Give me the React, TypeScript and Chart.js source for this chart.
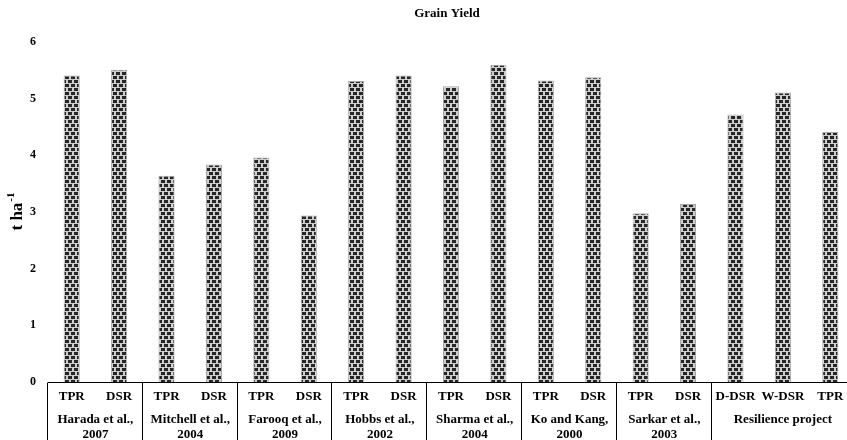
import React, { useEffect, useRef } from "react";
import { Chart, registerables } from "chart.js";
Chart.register(...registerables);

const barLabels = ["TPR", "DSR", "TPR", "DSR", "TPR", "DSR", "TPR", "DSR", "TPR", "DSR", "TPR", "DSR", "TPR", "DSR", "D-DSR", "W-DSR", "TPR"];
const yieldValues = [5.41, 5.51, 3.64, 3.84, 3.96, 2.94, 5.31, 5.41, 5.22, 5.6, 5.32, 5.38, 2.98, 3.14, 4.72, 5.11, 4.41];
const groupLabels = [
  ["Harada et al.,", "2007"],
  ["Mitchell et al.,", "2004"],
  ["Farooq et al.,", "2009"],
  ["Hobbs et al.,", "2002"],
  ["Sharma et al.,", "2004"],
  ["Ko and Kang,", "2000"],
  ["Sarkar et al.,", "2003"],
  ["Resilience project"],
];
const groupSizes = [2, 2, 2, 2, 2, 2, 2, 3];
const chartTitle = "Grain Yield";
const yTitleMain = "t ha";
const yTitleSup = "-1";
const yMin = 0;
const yMax = 6;
const yStep = 1;

const FONT = '"Liberation Serif", "Times New Roman", serif';

export default function App() {
  const ref = useRef<HTMLCanvasElement>(null);
  useEffect(() => {
    const canvas = ref.current!;
    const pc = document.createElement("canvas");
    pc.width = 12;
    pc.height = 8;
    const p = pc.getContext("2d")!;
    p.fillStyle = "#262626";
    p.fillRect(0, 0, 12, 8);
    p.fillStyle = "#cdcdcd";
    p.fillRect(0, 3, 12, 1);
    p.fillRect(0, 7, 12, 1);
    p.fillRect(0, 0, 2, 3);
    p.fillRect(6, 0, 2, 3);
    p.fillRect(3, 4, 2, 3);
    p.fillRect(9, 4, 2, 3);
    const pattern = canvas.getContext("2d")!.createPattern(pc, "repeat")!;

    const decor = {
      id: "decor",
      afterDraw(chart: any) {
        const { ctx, chartArea } = chart;
        const xs = chart.scales.x;
        const n = barLabels.length;
        const step = (chartArea.right - chartArea.left) / n;
        const by = Math.round(chartArea.bottom) + 0.5;
        ctx.save();
        ctx.strokeStyle = "#000";
        ctx.lineWidth = 1;
        ctx.beginPath();
        ctx.moveTo(chartArea.left, by);
        ctx.lineTo(chartArea.right, by);
        ctx.stroke();
        let idx = 0;
        for (let g = 0; g <= groupSizes.length; g++) {
          const px = Math.round(chartArea.left + idx * step) - 0.5;
          ctx.beginPath();
          ctx.moveTo(px, by);
          ctx.lineTo(px, chart.height);
          ctx.stroke();
          if (g < groupSizes.length) idx += groupSizes[g];
        }
        ctx.fillStyle = "#000";
        ctx.textAlign = "center";
        ctx.textBaseline = "middle";
        ctx.font = `bold 13px ${FONT}`;
        barLabels.forEach((l, i) => {
          ctx.fillText(l, xs.getPixelForValue(i), chartArea.bottom + 15);
        });
        idx = 0;
        groupLabels.forEach((lines, g) => {
          const cx = chartArea.left + (idx + groupSizes[g] / 2) * step;
          lines.forEach((t, k) => ctx.fillText(t, cx, chartArea.bottom + 38 + k * 15));
          idx += groupSizes[g];
        });
        ctx.font = `bold 13px ${FONT}`;
        ctx.fillText(chartTitle, 447, 14);
        ctx.translate(18, (chartArea.top + chartArea.bottom) / 2);
        ctx.rotate(-Math.PI / 2);
        ctx.font = `bold 17px ${FONT}`;
        const w1 = ctx.measureText(yTitleMain).width;
        ctx.font = `bold 11px ${FONT}`;
        const w2 = ctx.measureText(yTitleSup).width;
        const start = -(w1 + w2) / 2;
        ctx.textAlign = "left";
        ctx.font = `bold 17px ${FONT}`;
        ctx.fillText(yTitleMain, start, 0);
        ctx.font = `bold 11px ${FONT}`;
        ctx.fillText(yTitleSup, start + w1 + 1, -7);
        ctx.restore();
      },
    };

    const chart = new Chart(canvas, {
      type: "bar",
      data: {
        labels: barLabels,
        datasets: [
          {
            data: yieldValues,
            backgroundColor: pattern as any,
            borderColor: "#a8a8a8",
            borderWidth: 1,
            barPercentage: 0.34,
            categoryPercentage: 1,
          },
        ],
      },
      options: {
        animation: false,
        responsive: false,
        devicePixelRatio: 1,
        layout: { padding: { top: 42, bottom: 58, left: 8, right: 6 } },
        plugins: { legend: { display: false }, tooltip: { enabled: false }, title: { display: false } },
        scales: {
          x: { display: false, offset: true },
          y: {
            min: yMin,
            max: yMax,
            ticks: { stepSize: yStep, padding: 12, color: "#000", font: { family: FONT, size: 12, weight: "bold" } },
            grid: { display: false, drawTicks: false },
            border: { display: false },
            afterFit: (s: any) => {
              s.width = 40;
            },
          },
        },
      },
      plugins: [decor],
    });
    return () => chart.destroy();
  }, []);
  return (
    <div style={{ position: "absolute", left: 0, top: 0, width: 847, height: 440, overflow: "hidden", background: "#fff" }}>
      <canvas ref={ref} width={860} height={440} style={{ display: "block", width: 860, height: 440 }} />
    </div>
  );
}
